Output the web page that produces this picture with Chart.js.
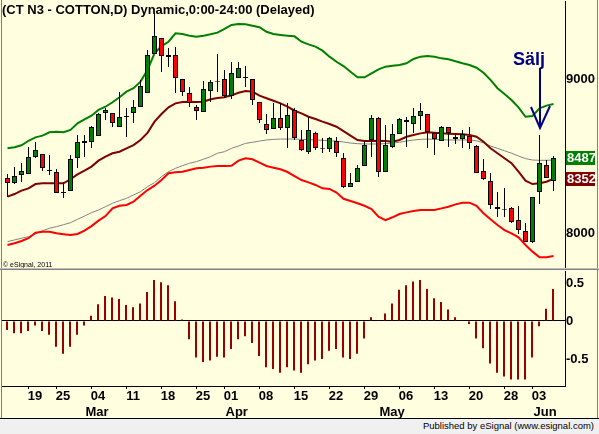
<!DOCTYPE html>
<html><head><meta charset="utf-8">
<script src="https://cdn.jsdelivr.net/npm/chart.js@4.4.1/dist/chart.umd.min.js"></script>
<style>
html,body{margin:0;padding:0;width:599px;height:434px;overflow:hidden;background:#FFFFE0;}
#wrap{position:relative;width:599px;height:434px;background:#FFFFE0;}
canvas{position:absolute;left:0;}
#c1{top:0;}
#c2{top:269px;}
#status{position:absolute;left:0;top:418px;width:599px;height:16px;background:#F0F0F0;border-top:1px solid #000;box-sizing:border-box;}
#status span{position:absolute;right:5px;top:1px;font:9.5px "Liberation Sans",Arial,sans-serif;color:#000;white-space:nowrap;}
</style></head>
<body><div id="wrap">
<canvas id="c1" width="599" height="269"></canvas>
<canvas id="c2" width="599" height="149"></canvas>
<div id="status"><span>Published by eSignal (www.esignal.com)</span></div>
</div>
<script>
// ---------------- DATA ----------------
const days = ['02-12','02-13','02-14','02-15','02-19','02-20','02-21','02-22','02-25','02-26','02-27','02-28',
 '03-01','03-04','03-05','03-06','03-07','03-08','03-11','03-12','03-13','03-14','03-15','03-18','03-19','03-20','03-21','03-22','03-25','03-26','03-27','03-28',
 '04-01','04-02','04-03','04-04','04-05','04-08','04-09','04-10','04-11','04-12','04-15','04-16','04-17','04-18','04-19','04-22','04-23','04-24','04-25','04-26','04-29','04-30',
 '05-01','05-02','05-03','05-06','05-07','05-08','05-09','05-10','05-13','05-14','05-15','05-16','05-17','05-20','05-21','05-22','05-23','05-24','05-28','05-29','05-30','05-31',
 '06-03','06-04','06-05'];

const opens = [8357,8325,8377,8383,8493,8513,8403,8396,8260,8273,
 8487,8584,8591,8630,8779,8779,8688,8760,8779,8818,
 8909,9162,9266,9143,9156,9000,8909,8818,8786,8922,
 8980,9000,8890,9006,9013,9000,8851,8708,8675,8747,
 8682,8799,8604,8526,8649,8545,8545,8597,8487,8299,
 8331,8435,8604,8747,8396,8558,8643,8734,8708,8760,
 8773,8649,8597,8688,8623,8610,8630,8565,8403,8338,
 8169,8149,8162,8084,8013,7942,8266,8442,8338];
const highs = [8383,8429,8455,8558,8591,8513,8506,8416,8331,8506,
 8636,8636,8695,8779,8812,8779,8916,8812,8864,8993,
 9188,9429,9266,9201,9208,9000,8948,8831,8987,8993,
 9162,9058,9110,9110,9084,9000,8851,8773,8844,8844,
 8844,8812,8669,8753,8658,8617,8623,8623,8519,8390,
 8442,8597,8766,8753,8701,8708,8747,8753,8812,8844,
 8773,8649,8695,8688,8649,8669,8688,8571,8480,8390,
 8266,8292,8169,8175,8065,8234,8636,8474,8500];
const lows = [8234,8318,8331,8383,8487,8403,8377,8260,8227,8273,
 8422,8493,8552,8630,8734,8688,8688,8623,8714,8818,
 8909,9162,9045,9078,8909,8890,8818,8734,8786,8851,
 8916,8877,8870,9006,8948,8831,8714,8643,8675,8669,
 8552,8604,8532,8513,8539,8519,8526,8493,8292,8299,
 8331,8435,8493,8364,8396,8552,8643,8558,8649,8669,
 8552,8506,8597,8558,8578,8552,8545,8390,8344,8156,
 8104,8104,8065,7994,7942,7935,8188,8357,8273];
const closes = [8325,8370,8403,8493,8539,8422,8409,8260,8266,8480,
 8591,8597,8688,8773,8799,8714,8753,8754,8818,8955,
 9156,9279,9149,9156,9006,8916,8844,8792,8935,8980,
 8986,8890,9039,9071,9006,8864,8734,8669,8747,8682,
 8766,8617,8539,8669,8552,8551,8617,8519,8299,8325,
 8422,8571,8747,8396,8571,8643,8740,8721,8760,8792,
 8656,8610,8688,8649,8610,8643,8584,8390,8351,8182,
 8156,8155,8071,8019,7942,8234,8455,8357,8487];

const upperBand = [8550,8557,8570,8599,8621,8632,8654,8658,8654,8669,
 8712,8738,8762,8799,8820,8849,8881,8918,8940,8983,
 9058,9167,9214,9242,9297,9292,9281,9275,9281,9290,
 9301,9325,9351,9357,9355,9346,9336,9307,9292,9286,
 9281,9277,9242,9225,9210,9184,9145,9112,9084,9047,
 9011,9011,9037,9063,9080,9086,9091,9102,9130,9145,
 9149,9145,9134,9128,9115,9102,9091,9073,9041,8994,
 8940,8903,8864,8816,8755,8760,8810,8827,8838];
const midBand = [8236,8253,8275,8290,8318,8323,8323,8323,8323,8349,
 8381,8405,8431,8470,8496,8518,8528,8550,8571,8604,
 8650,8723,8773,8816,8842,8851,8853,8851,8853,8868,
 8877,8881,8894,8911,8922,8918,8892,8875,8859,8842,
 8820,8794,8777,8755,8740,8723,8708,8690,8662,8632,
 8604,8597,8597,8599,8597,8593,8604,8625,8636,8647,
 8654,8651,8647,8645,8643,8641,8636,8625,8593,8550,
 8518,8485,8453,8398,8340,8318,8323,8333,8352];
const greyLine = [7944,7955,7966,7976,7994,8015,8031,8041,8054,8067,
 8089,8110,8132,8149,8171,8193,8210,8225,8247,8268,
 8301,8327,8366,8398,8420,8437,8453,8464,8479,8496,
 8518,8528,8550,8565,8582,8589,8597,8604,8608,8610,
 8610,8610,8608,8606,8604,8602,8599,8597,8591,8584,
 8580,8578,8578,8578,8580,8584,8589,8597,8604,8608,
 8610,8608,8606,8604,8604,8604,8604,8599,8586,8565,
 8550,8534,8518,8500,8483,8474,8472,8472,8474];
const lowerBand = [7922,7933,7948,7966,8002,8008,8008,7998,7992,7987,
 7994,8015,8045,8080,8110,8160,8177,8182,8203,8242,
 8279,8307,8344,8388,8394,8398,8409,8421,8424,8431,
 8435,8435,8437,8470,8485,8479,8457,8435,8424,8414,
 8396,8370,8344,8329,8312,8290,8286,8263,8222,8208,
 8193,8177,8156,8106,8084,8102,8123,8134,8143,8149,
 8149,8149,8160,8171,8186,8197,8197,8177,8128,8089,
 8052,8019,7998,7972,7922,7879,7842,7842,7851];
const oscillator = [-0.12,-0.16,-0.16,-0.13,-0.06,-0.13,-0.18,-0.34,-0.43,-0.34,
 -0.18,-0.06,0.07,0.22,0.33,0.31,0.29,0.21,0.18,0.23,
 0.38,0.54,0.51,0.47,0.26,0.02,-0.24,-0.48,-0.54,-0.52,
 -0.47,-0.48,-0.37,-0.24,-0.20,-0.29,-0.46,-0.61,-0.63,-0.68,
 -0.61,-0.65,-0.68,-0.57,-0.52,-0.50,-0.39,-0.37,-0.48,-0.50,
 -0.43,-0.23,0.05,0.01,0.10,0.23,0.41,0.47,0.52,0.54,
 0.42,0.30,0.25,0.15,0.05,0.01,-0.04,-0.23,-0.36,-0.56,
 -0.68,-0.73,-0.77,-0.77,-0.77,-0.48,-0.07,0.16,0.42];

const dateTickIdx    = [4,8,13,18,23,28,32,37,42,47,52,57,62,67,72,76];
const dateTickLabels = ['19','25','04','11','18','25','01','08','15','22','29','06','13','20','28','03'];
const monthLabels    = ['Mar','Apr','May','Jun'];
const monthStartIdx  = [12,32,54,76];
const priceTicks     = [8000,9000];
const oscTicks       = [-0.5,0,0.5];
const titleText  = '(CT N3 - COTTON,D) Dynamic,0:00-24:00 (Delayed)';
const signalIdx  = 76;
const signalText = 'Sälj';

// ---------------- LAYOUT ----------------
const FONT = '"Liberation Sans", Arial, Helvetica, sans-serif';
Chart.defaults.font.family = FONT;
Chart.defaults.color = '#000';
const LEFT = 2, RIGHT = 565, BAR_PX = 7, FIRST_X = 7.5;
const XMIN = -(FIRST_X - LEFT) / BAR_PX;
const XMAX = XMIN + (RIGHT - LEFT) / BAR_PX;
const XMIN2 = XMIN + 0.5 / BAR_PX, XMAX2 = XMAX + 0.5 / BAR_PX;
const tickFont = {family: FONT, size: 13, weight: 'bold', lineHeight: '16px'};
const idx = opens.map((_, i) => i);
const pts = arr => arr.map((v, i) => ({x: i, y: v}));
const noPad = s => { s.paddingTop = 0; s.paddingBottom = 0; s.paddingLeft = 0; s.paddingRight = 0; };

const decor1 = {
  id: 'decor1',
  afterDraw(chart) {
    const {ctx, chartArea: a, scales: {x, y}} = chart;
    ctx.save();
    ctx.fillStyle = '#000';
    ctx.font = 'bold 13px ' + FONT;
    ctx.textAlign = 'left'; ctx.textBaseline = 'alphabetic';
    ctx.fillText(titleText, 2, 13.5);
    ctx.font = '7px ' + FONT;
    ctx.fillText('\u00A9 eSignal, 2011', 3, 266.5);
    const last = closes.length - 1;
    [[closes[last], '#008000'], [midBand[last], '#800000']].forEach(([v, c]) => {
      const py = Math.round(y.getPixelForValue(v));
      ctx.fillStyle = c;
      ctx.fillRect(a.right + 1, py - 7, 29, 14);
      ctx.fillStyle = '#fff';
      ctx.font = 'bold 13px ' + FONT;
      ctx.textBaseline = 'middle';
      ctx.fillText(String(Math.round(v)), a.right + 2, py + 0.5);
    });
    const xs = Math.round(x.getPixelForValue(signalIdx));
    const tipY = Math.round(y.getPixelForValue(highs[signalIdx])) - 7;
    ctx.strokeStyle = '#000080'; ctx.lineWidth = 2; ctx.lineJoin = 'miter';
    ctx.beginPath(); ctx.moveTo(xs, tipY - 60); ctx.lineTo(xs, tipY); ctx.stroke();
    ctx.beginPath(); ctx.moveTo(xs - 9, tipY - 21); ctx.lineTo(xs, tipY); ctx.lineTo(xs + 10, tipY - 22); ctx.stroke();
    ctx.fillStyle = '#000080';
    ctx.font = 'bold 18px ' + FONT;
    ctx.textAlign = 'center'; ctx.textBaseline = 'alphabetic';
    ctx.fillText(signalText, xs - 11, tipY - 63.5);
    ctx.fillStyle = '#808080';
    ctx.fillRect(1, 0, 1, 269);
    ctx.fillRect(597, 0, 1, 269);
    ctx.fillStyle = '#C0C0C0';
    ctx.fillRect(0, 268, 599, 1);
    ctx.restore();
  }
};

const decor2 = {
  id: 'decor2',
  afterDraw(chart) {
    const {ctx} = chart;
    ctx.save();
    ctx.fillStyle = '#808080';
    ctx.fillRect(0, 0, 599, 1);
    ctx.fillRect(1, 0, 1, 149);
    ctx.fillRect(597, 0, 1, 149);
    ctx.restore();
  }
};

new Chart(document.getElementById('c1'), {
  data: {
    datasets: [
      {type: 'line', data: pts(upperBand), borderColor: '#008000', borderWidth: 2, pointRadius: 0, tension: 0, order: 10},
      {type: 'line', data: pts(midBand), borderColor: '#800000', borderWidth: 2, pointRadius: 0, tension: 0, order: 10},
      {type: 'line', data: pts(lowerBand), borderColor: '#FF0000', borderWidth: 2, pointRadius: 0, tension: 0, order: 10},
      {type: 'line', data: pts(greyLine), borderColor: '#808080', borderWidth: 1, pointRadius: 0, tension: 0, order: 10},
      {type: 'bar', data: idx.map(i => ({x: i, y: [lows[i], highs[i]]})), backgroundColor: '#000',
       barThickness: 1, grouped: false, inflateAmount: 0, borderWidth: 0, order: 5},
      {type: 'bar', data: idx.map(i => ({x: i, y: [opens[i], closes[i]]})),
       backgroundColor: idx.map(i => closes[i] >= opens[i] ? '#008000' : '#FF0000'),
       borderColor: '#000', borderWidth: 1, borderSkipped: false, barThickness: 5, grouped: false, inflateAmount: 0, order: 1}
    ]
  },
  options: {
    responsive: false, animation: false, events: [],
    layout: {padding: {left: LEFT, right: 0, top: 1, bottom: 1}},
    plugins: {legend: {display: false}, tooltip: {enabled: false}},
    scales: {
      x: {type: 'linear', min: XMIN, max: XMAX, display: false, bounds: 'data', offset: false},
      y: {type: 'linear', position: 'right', min: 7772.7, max: 9506.5, bounds: 'data',
          grid: {display: false, drawTicks: false},
          border: {display: true, color: '#000', width: 1},
          ticks: {font: tickFont, color: '#000', padding: 1, callback: v => String(v)},
          afterBuildTicks: s => { s.ticks = priceTicks.map(v => ({value: v})); },
          afterFit: s => { s.width = 599 - RIGHT; noPad(s); }}
    }
  },
  plugins: [decor1]
});

new Chart(document.getElementById('c2'), {
  data: {
    datasets: [
      {type: 'bar', xAxisID: 'x', data: pts(oscillator), backgroundColor: '#990000', barThickness: 2,
       grouped: false, inflateAmount: 0, borderWidth: 0}
    ]
  },
  options: {
    responsive: false, animation: false, events: [],
    layout: {padding: {left: LEFT, right: 0, top: 2, bottom: 0}},
    plugins: {legend: {display: false}, tooltip: {enabled: false}},
    scales: {
      x: {type: 'linear', axis: 'x', position: 'bottom', weight: 0, min: XMIN2, max: XMAX2, bounds: 'data', offset: false,
          grid: {display: false, drawTicks: false, offset: false},
          border: {display: false},
          ticks: {font: tickFont, color: '#000', padding: -1, autoSkip: false, maxRotation: 0, minRotation: 0,
                  callback: v => { const k = dateTickIdx.indexOf(v); return k >= 0 ? dateTickLabels[k] : ''; }},
          afterBuildTicks: s => { s.ticks = dateTickIdx.map(v => ({value: v})); },
          afterFit: s => { s.height = 15; noPad(s); }},
      xt: {type: 'linear', axis: 'x', position: 'bottom', weight: -1, min: XMIN2, max: XMAX2, bounds: 'data', offset: false,
          grid: {display: true, drawOnChartArea: false, drawTicks: true, tickLength: 3, color: '#000', offset: false},
          border: {display: true, color: '#000', width: 1},
          ticks: {display: false, autoSkip: false},
          afterBuildTicks: s => { s.ticks = dateTickIdx.map(v => ({value: v - 1})); },
          afterFit: s => { s.height = 3; noPad(s); }},
      xm: {type: 'linear', axis: 'x', position: 'bottom', weight: 1, min: XMIN2, max: XMAX2, bounds: 'data', offset: false,
          grid: {display: false, drawTicks: false, offset: false},
          border: {display: false},
          ticks: {font: tickFont, color: '#000', padding: 0, autoSkip: false, maxRotation: 0, minRotation: 0, align: 'start',
                  callback: (v, i) => monthLabels[i]},
          afterBuildTicks: s => { s.ticks = monthStartIdx.map(v => ({value: v - 5.5 / BAR_PX})); },
          afterFit: s => { s.height = 14; noPad(s); }},
      y: {type: 'linear', position: 'right', min: -0.8553, max: 0.6579, bounds: 'data',
          grid: {display: true, drawTicks: false, color: c => (c.tick && c.tick.value === 0) ? '#000' : 'rgba(0,0,0,0)'},
          border: {display: true, color: '#000', width: 1},
          ticks: {font: tickFont, color: '#000', padding: 1, callback: v => (v === 0 ? '0' : String(v))},
          afterBuildTicks: s => { s.ticks = oscTicks.map(v => ({value: v})); },
          afterFit: s => { s.width = 599 - RIGHT; noPad(s); }}
    }
  },
  plugins: [decor2]
});
</script></body></html>
